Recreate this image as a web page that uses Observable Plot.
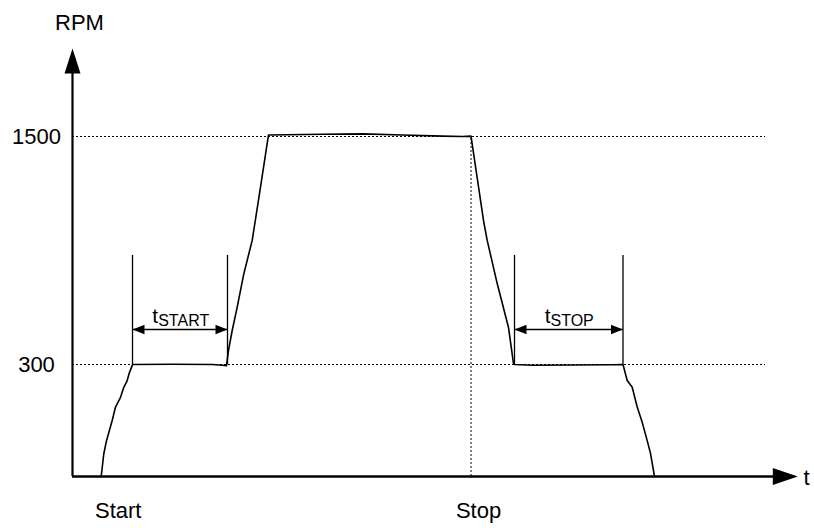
<!DOCTYPE html>
<html>
<head>
<meta charset="utf-8">
<script src="https://cdn.jsdelivr.net/npm/d3@7"></script>
<script src="https://cdn.jsdelivr.net/npm/@observablehq/plot@0.6"></script>
<style>
  html, body { margin: 0; padding: 0; background: #fff; }
  svg { display: block; }
</style>
</head>
<body>
<div id="chart"></div>
<script>
// ---- data (time in arbitrary units, speed in RPM) ----
const curveT   = [28.7, 31.3, 34, 39.7, 43, 48, 51.3, 54.7, 57, 59.7, 60,
                  100, 140, 150, 154,
                  156, 159.7, 164.7, 171.3, 179.7, 187.5, 196,
                  250, 290, 330, 370, 390, 398.5,
                  411, 414.7, 424.7, 436, 441, 442,
                  460, 500, 540, 550.5,
                  554.7, 559.7, 564.7, 569.7, 574.7, 578, 582];
const curveRPM = [0, 61, 96, 150, 186, 212, 239, 257, 279, 297, 300,
                  301, 300, 298, 297,
                  374, 479, 602, 777, 953, 1216, 1508,
                  1512, 1514, 1508, 1502, 1500, 1502,
                  1058, 953, 726, 495, 305, 300,
                  298, 298.5, 299.5, 300,
                  257, 239, 186, 145, 96, 62, 0];
const levels = [300, 1500];              // reference speeds
const levelLabels = ["300", "1500"];
const stopTime = 398.5;                  // stop command instant
const tStart = [60, 155];                // start delay window
const tStop = [442, 550.5];              // stop delay window
const eventLabels = ["Start", "Stop"];
const eventT = [45.7, 406];

// ---- derived tables ----
const curve = curveT.map((t, i) => ({t, rpm: curveRPM[i]}));
const windows = [tStart, tStop];
const markerX = windows.flat();
const spans = windows.map(([a, b]) => ({a, b}));

// geometry constants for the annotations (in data units)
const markerTop = 874, arrowLevel = 484;
const xAxisEnd = 725.3, yAxisTop = 1963;

// schematic (not-to-scale) speed axis: the 0–300 band is drawn stretched
const schematic = r => r <= 300 ? r * 112 / 300 : 112 + (r - 300) * 0.19;

// filled triangular arrowheads, tip at the anchor point
const head = (len, hw, ux, uy) => ({
  draw(ctx) {
    const bx = -len * ux, by = -len * uy, px = -uy * hw, py = ux * hw;
    ctx.moveTo(0, 0);
    ctx.lineTo(bx + px, by + py);
    ctx.lineTo(bx - px, by - py);
    ctx.closePath();
  }
});
const headLeft = head(12, 4.8, -1, 0);
const headRight = head(12, 4.8, 1, 0);
const axisUp = head(25, 8, 0, -1);
const axisRight = head(25, 8.5, 1, 0);

const font = "Liberation Sans, Arial, Helvetica, sans-serif";

const chart = Plot.plot({
  width: 814,
  height: 528,
  margin: 0,
  x: {domain: [0, 742], range: [72, 814], axis: null},
  y: {transform: schematic, domain: [0, 340], range: [476, 136], axis: null},
  style: {background: "#fff", color: "#000"},
  marks: [
    // dotted reference lines
    Plot.ruleY(levels, {x1: 0, x2: 693, stroke: "#000", strokeWidth: 1, strokeDasharray: "2,2"}),
    Plot.ruleX([stopTime], {y1: 0, y2: 1500, stroke: "#000", strokeWidth: 1, strokeDasharray: "2,2"}),
    // window markers
    Plot.ruleX(markerX, {y1: 300, y2: markerTop, stroke: "#000", strokeWidth: 1.3}),
    Plot.ruleY(spans, {x1: "a", x2: "b", y: () => arrowLevel, stroke: "#000", strokeWidth: 1.5}),
    Plot.dot(spans, {x: "a", y: () => arrowLevel, symbol: headLeft, fill: "#000", stroke: "none"}),
    Plot.dot(spans, {x: "b", y: () => arrowLevel, symbol: headRight, fill: "#000", stroke: "none"}),
    // speed profile
    Plot.line(curve, {x: "t", y: "rpm", stroke: "#000", strokeWidth: 1.6, curve: "linear"}),
    // axes
    Plot.ruleX([0], {y1: 0, y2: 1880, stroke: "#000", strokeWidth: 2.2}),
    Plot.ruleY([0], {x1: 0, x2: 705, stroke: "#000", strokeWidth: 2.6}),
    Plot.dot([0], {x: 0, y: () => yAxisTop, symbol: axisUp, fill: "#000", stroke: "none"}),
    Plot.dot([0], {x: () => xAxisEnd, y: 0, symbol: axisRight, fill: "#000", stroke: "none"}),
    // texts
    Plot.text(levels, {x: () => -36, y: d => d, text: (d, i) => levelLabels[i], fontSize: 22, fontFamily: font, textAnchor: "middle", lineAnchor: "middle", fill: "#000"}),
    Plot.text(["RPM"], {x: () => 7, y: () => 2062, text: d => d, fontSize: 22, fontFamily: font, textAnchor: "middle", lineAnchor: "bottom", fill: "#000"}),
    Plot.text(["t"], {x: () => 731, y: () => -24, text: d => d, fontSize: 22, fontFamily: font, textAnchor: "start", lineAnchor: "bottom", fill: "#000"}),
    Plot.text(eventLabels, {x: (d, i) => eventT[i], y: () => -110.6, text: d => d, fontSize: 22, fontFamily: font, textAnchor: "middle", lineAnchor: "bottom", fill: "#000"}),
    Plot.text([85.7, 478], {x: d => d, y: () => 521, text: () => "t", fontSize: 21, fontFamily: font, textAnchor: "end", lineAnchor: "bottom", fill: "#000"}),
    Plot.text(["START", "STOP"], {x: (d, i) => [85.7, 478][i], y: () => 505, text: d => d, fontSize: 16, fontFamily: font, textAnchor: "start", lineAnchor: "bottom", fill: "#000"})
  ]
});
document.getElementById("chart").append(chart);
</script>
</body>
</html>
